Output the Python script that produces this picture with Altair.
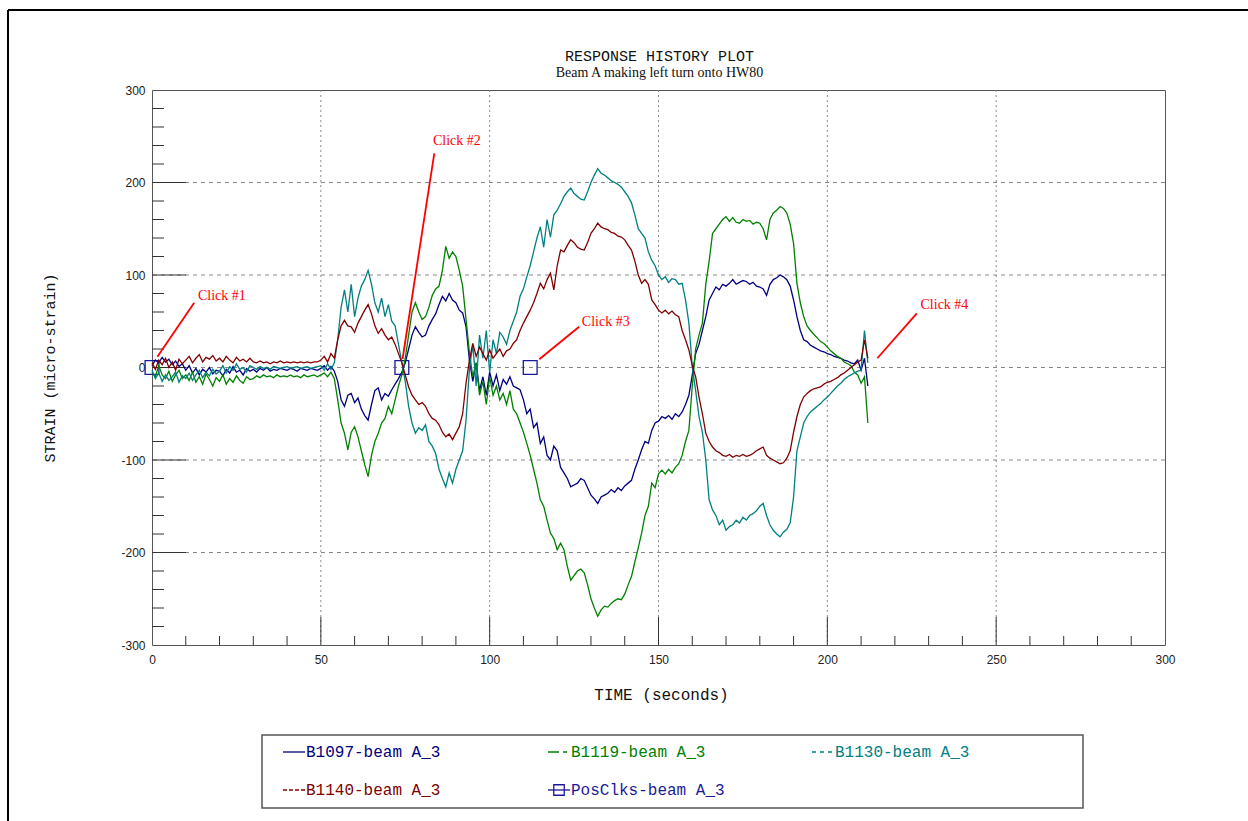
import altair as alt
import pandas as pd

# ---------------- data ----------------
TIME = list(range(213))  # seconds

B1097 = [2, 8, 5, 11, 6, 9, 3, 7, 1, 4,
         -3, 2, -6, -1, -8, -2, -5, 0, -7, -3,
         -4, -9, -2, -6, 1, -5, -3, -8, -1, -4,
         -2, -5, -1, -3, 0, -4, -2, -3, -1, -2,
         -3, -1, -2, -4, -1, -2, -3, -1, -2, -3,
         -1, 2, -3, 1, -4, -15, -35, -42, -30, -28,
         -38, -33, -45, -52, -57, -40, -25, -22, -35, -28,
         -31, -24, -18, -12, -5, 5, 20, 35, 44, 38,
         33, 35, 45, 52, 58, 68, 77, 72, 80, 73,
         70, 62, 59, 44, 8, -15, 5, -25, -10, -30,
         -5, -20, -8, -25, -13, -18, -10, -20, -22, -24,
         -35, -50, -45, -65, -60, -82, -75, -95, -100, -85,
         -90, -108, -114, -120, -129, -127, -125, -120, -122, -130,
         -138, -142, -147, -140, -138, -136, -132, -135, -130, -133,
         -128, -125, -122, -110, -100, -89, -80, -82, -68, -60,
         -58, -53, -55, -52, -56, -50, -53, -48, -40, -30,
         -8, 15, 25, 40, 55, 73, 80, 87, 84, 90,
         88, 91, 95, 90, 92, 94, 93, 90, 92, 88,
         87, 85, 78, 90, 95, 97, 100, 98, 95, 88,
         73, 55, 40, 30, 28, 24, 22, 20, 18, 17,
         15, 14, 12, 11, 10, 8, 7, 5, 4, 8,
         -3, 10, -20]

B1119 = [-5, -10, 2, -8, -12, -4, -15, -8, -3, -12,
         -8, -14, -5, -16, -10, -18, -7, -13, -20, -11,
         -15, -8, -18, -12, -16, -9, -14, -17, -10, -13,
         -12, -9, -11, -8, -10, -9, -11, -8, -10, -9,
         -10, -8, -10, -9, -11, -8, -10, -9, -8, -10,
         -8, -6, -10, -5, -12, -35, -60, -71, -89, -70,
         -64, -75, -90, -105, -118, -95, -80, -71, -60, -55,
         -42, -50, -35, -20, -8, 10, 35, 60, 70, 60,
         52, 55, 65, 78, 85, 88, 105, 131, 118, 125,
         120, 105, 88, 52, 16, -10, 5, -30, -15, -40,
         -10, -30, -20, -35, -28, -40, -25, -45, -50, -60,
         -70, -82, -95, -110, -125, -143, -150, -165, -179, -185,
         -197, -190, -197, -215, -230, -225, -220, -218, -222, -235,
         -250, -260, -269, -262, -258, -259, -255, -252, -250, -251,
         -245, -235, -226, -210, -195, -179, -160, -150, -125, -130,
         -115, -111, -115, -110, -114, -108, -104, -95, -80, -68,
         -20, 20, 35, 48, 90, 115, 145, 150, 155, 160,
         163, 158, 162, 157, 156, 160, 158, 159, 155, 157,
         156, 150, 138, 160, 167, 170, 174, 172, 167, 155,
         134, 91, 70, 55, 45, 40, 36, 32, 28, 26,
         22, 18, 15, 12, 10, 6, 4, 2, -5, -8,
         -17, -10, -60]

B1130 = [-3, -12, -6, -15, -8, -14, -10, -5, -16, -9,
         -12, -6, -14, -8, -3, -11, -5, -9, -2, -7,
         -4, 2, -6, 1, -3, 4, -2, 0, -5, 2,
         0, -2, 1, -1, 0, -2, 1, 0, -1, 0,
         1, -1, 0, 1, -1, 0, 1, -1, 0, 1,
         2, -3, 4, -2, 5, 30, 65, 84, 60, 90,
         55, 75, 88, 95, 105, 90, 70, 60, 75, 55,
         68, 50, 45, 25, 5, -15, -42, -60, -71, -65,
         -68, -62, -80, -85, -93, -110, -120, -129, -114, -125,
         -110, -100, -90, -57, -2, 25, -20, 35, 10, 40,
         -5, 30, 15, 38, 33, 25, 40, 50, 60, 77,
         85, 98, 110, 125, 140, 152, 130, 160, 141, 165,
         170, 177, 185, 190, 194, 188, 185, 182, 181, 190,
         200, 208, 215, 210, 208, 205, 202, 200, 198, 195,
         190, 185, 178, 165, 150, 145, 140, 125, 116, 110,
         100, 95, 98, 92, 96, 95, 90, 91, 73, 48,
         1, -25, -53, -70, -100, -143, -154, -160, -170, -165,
         -176, -172, -170, -165, -168, -162, -165, -160, -158, -155,
         -150, -147, -160, -170, -176, -180, -183, -178, -175, -168,
         -140, -90, -75, -60, -53, -48, -45, -42, -39, -35,
         -32, -28, -24, -20, -17, -13, -10, -8, -6, -4,
         -3, 40, 5]

B1140 = [5, -2, 8, 3, 10, 0, 6, -3, 9, 4,
         8, 12, 5, 10, 14, 6, 11, 9, 13, 7,
         10, 6, 12, 8, 5, 11, 7, 9, 6, 10,
         6, 5, 7, 5, 6, 4, 6, 5, 7, 5,
         6, 5, 6, 5, 6, 5, 6, 5, 6, 6,
         8, 12, 6, 15, 10, 30, 45, 51, 45, 44,
         38, 48, 55, 62, 68, 58, 45, 37, 42, 35,
         30, 33, 25, 15, 5, -8, -21, -30, -35, -40,
         -38, -42, -50, -55, -57, -62, -70, -75, -72, -78,
         -71, -64, -50, -17, 8, 26, 12, 22, 15, 8,
         19, 10, 15, 20, 12, 18, 20, 26, 30, 40,
         48, 55, 62, 70, 80, 91, 85, 95, 102, 84,
         110, 127, 125, 132, 138, 135, 130, 128, 127, 135,
         145, 150, 156, 152, 150, 149, 146, 145, 142, 141,
         138, 132, 127, 115, 100, 91, 95, 90, 73, 68,
         62, 59, 62, 58, 61, 57, 55, 40, 30, 19,
         2, -10, -32, -50, -71, -80, -86, -90, -92, -95,
         -96, -94, -97, -95, -96, -94, -96, -95, -93, -90,
         -88, -86, -95, -98, -100, -102, -104, -103, -98, -90,
         -70, -53, -40, -32, -28, -25, -23, -22, -21, -18,
         -16, -15, -13, -11, -8, -6, -3, 0, 3, 6,
         8, 30, 10]

CLICK_T = [0, 74, 112]
CLICK_V = [0, 0, 0]

CLICK_LABELS = ["Click #1", "Click #2", "Click #3", "Click #4"]
LABEL_T = [13.6, 83.2, 127.3, 227.6]
LABEL_V = [77, 245, 49.5, 67.6]
LEADER_T = [12.5, 83.6, 126.5, 226.5]
LEADER_V = [70, 231.6, 44, 58.6]
LEADER_T2 = [1.6, 74.2, 114.7, 214.8]
LEADER_V2 = [11.7, 9.2, 8.9, 10]

SERIES_NAMES = ["B1097-beam A_3", "B1119-beam A_3", "B1130-beam A_3",
                "B1140-beam A_3", "PosClks-beam A_3"]
SERIES_COLORS = ["#000080", "#008000", "#008080", "#800000", "#1a1a9a"]

X_LABELS = [0, 50, 100, 150, 200, 250, 300]
Y_LABELS = [-300, -200, -100, 0, 100, 200, 300]
X_GRID = [50, 100, 150, 200, 250]
Y_GRID = [-200, -100, 0, 100, 200]
X_MINOR = [t for t in range(10, 300, 10) if t % 50 != 0]
X_MAJOR = [50, 100, 150, 200, 250]
Y_MINOR = [v for v in range(-280, 300, 20) if v % 100 != 0]
Y_MAJOR = [-200, -100, 0, 100, 200]

# ---------------- chart ----------------
W, H = 1013, 555
xs = alt.Scale(domain=[0, 300], nice=False, zero=False)
ys = alt.Scale(domain=[-300, 300], nice=False, zero=False)
xaxis = alt.Axis(values=X_LABELS, title=None, ticks=False, domain=False, grid=False,
                 labelFont="Liberation Sans", labelFontSize=12, labelColor="#222",
                 labelPadding=9, labelOverlap=False, labelFlush=False,
                 labelExpr="'' + datum.value")
yaxis = alt.Axis(values=Y_LABELS, title=None, ticks=False, domain=False, grid=False,
                 labelFont="Liberation Sans", labelFontSize=12, labelColor="#222",
                 labelPadding=7, labelOverlap=False, labelFlush=False,
                 labelExpr="'' + datum.value")


def X(field="t"):
    return alt.X(f"{field}:Q", scale=xs, axis=xaxis)


def Y(field="v"):
    return alt.Y(f"{field}:Q", scale=ys, axis=yaxis)


one = pd.DataFrame({"d": [0]})
layers = []

# grid
layers.append(alt.Chart(pd.DataFrame({"t": X_GRID})).mark_rule(
    color="#8a8a8a", strokeDash=[2, 3], strokeWidth=1).encode(x=X()))
layers.append(alt.Chart(pd.DataFrame({"v": Y_GRID})).mark_rule(
    color="#8a8a8a", strokeDash=[4, 4], strokeWidth=1).encode(y=Y()))

# inward ticks
layers.append(alt.Chart(pd.DataFrame({"t": X_MINOR})).mark_rule(color="#333", strokeWidth=1).encode(
    x=X(), y=alt.value(H - 9), y2=alt.value(H)))
layers.append(alt.Chart(pd.DataFrame({"t": X_MAJOR})).mark_rule(color="#333", strokeWidth=1).encode(
    x=X(), y=alt.value(H - 28), y2=alt.value(H)))
layers.append(alt.Chart(pd.DataFrame({"v": Y_MINOR})).mark_rule(color="#333", strokeWidth=1).encode(
    y=Y(), x=alt.value(0), x2=alt.value(12)))
layers.append(alt.Chart(pd.DataFrame({"v": Y_MAJOR})).mark_rule(color="#333", strokeWidth=1).encode(
    y=Y(), x=alt.value(0), x2=alt.value(34)))

# PosClks squares
layers.append(alt.Chart(pd.DataFrame({"t": CLICK_T, "v": CLICK_V})).mark_point(
    shape="square", size=190, filled=False, color=SERIES_COLORS[4], strokeWidth=1.3,
    opacity=1).encode(x=X(), y=Y()))

# strain series
for vals, col in zip([B1097, B1119, B1130, B1140], SERIES_COLORS[:4]):
    layers.append(alt.Chart(pd.DataFrame({"t": TIME, "v": vals})).mark_line(
        color=col, strokeWidth=1.3, strokeJoin="miter").encode(x=X(), y=Y()))

# click annotations
layers.append(alt.Chart(pd.DataFrame({"t": LEADER_T, "v": LEADER_V, "t2": LEADER_T2, "v2": LEADER_V2})).mark_rule(
    color="#ff0000", strokeWidth=1.8).encode(x=X(), y=Y(), x2="t2:Q", y2="v2:Q"))
layers.append(alt.Chart(pd.DataFrame({"t": LABEL_T, "v": LABEL_V, "label": CLICK_LABELS})).mark_text(
    align="left", baseline="middle", font="Liberation Serif", fontSize=14, color="#ff0000").encode(
    x=X(), y=Y(), text="label:N"))

# titles
layers.append(alt.Chart(one).mark_text(text="RESPONSE HISTORY PLOT", font="Liberation Mono", fontSize=15,
                                       align="center", baseline="middle", color="#111").encode(
    x=alt.value(W / 2 + 1), y=alt.value(-34)))
layers.append(alt.Chart(one).mark_text(text="Beam A making left turn onto HW80", font="Liberation Serif",
                                       fontSize=14, align="center", baseline="middle", color="#111").encode(
    x=alt.value(W / 2 + 1), y=alt.value(-17)))
layers.append(alt.Chart(one).mark_text(text="TIME (seconds)", font="Liberation Mono", fontSize=16,
                                       align="center", baseline="middle", color="#111").encode(
    x=alt.value(W / 2 + 3), y=alt.value(605)))
layers.append(alt.Chart(one).mark_text(text="STRAIN (micro-strain)", font="Liberation Mono", fontSize=15,
                                       angle=270, align="center", baseline="middle", color="#111").encode(
    x=alt.value(-102), y=alt.value(278)))

# outer frame (top and left edges)
layers.append(alt.Chart(one).mark_rule(color="#000", strokeWidth=2).encode(
    x=alt.value(-144), x2=alt.value(1100), y=alt.value(-80)))
layers.append(alt.Chart(one).mark_rule(color="#000", strokeWidth=2).encode(
    x=alt.value(-144), y=alt.value(-80), y2=alt.value(740)))

# legend box
layers.append(alt.Chart(one).mark_rect(fillOpacity=0, stroke="#555", strokeWidth=1.5).encode(
    x=alt.value(110), x2=alt.value(931), y=alt.value(645), y2=alt.value(718)))

legend_pos = [(131, 662), (396, 662), (660, 662), (131, 700), (396, 700)]
legend_dash = [None, [11, 4, 4, 3], [4, 4], [4, 2], None]
for name, col, dash, (lx, ly) in zip(SERIES_NAMES, SERIES_COLORS, legend_dash, legend_pos):
    kw = {"strokeDash": dash} if dash else {}
    layers.append(alt.Chart(one).mark_rule(color=col, strokeWidth=1.3, **kw).encode(
        x=alt.value(lx), x2=alt.value(lx + 22), y=alt.value(ly)))
    layers.append(alt.Chart(one).mark_text(text=name, font="Liberation Mono", fontSize=16,
                                           align="left", baseline="middle", color=col).encode(
        x=alt.value(lx + 23), y=alt.value(ly)))
layers.append(alt.Chart(one).mark_point(shape="square", size=110, filled=False, color=SERIES_COLORS[4],
                                        strokeWidth=1.3, opacity=1).encode(
    x=alt.value(legend_pos[4][0] + 11), y=alt.value(legend_pos[4][1])))

chart = alt.layer(*layers).properties(
    width=W, height=H,
    padding={"left": 152, "top": 90, "right": 83, "bottom": 176},
    autosize=alt.AutoSizeParams(type="none"),
    background="white",
).configure_view(stroke="#555", strokeWidth=1)

chart.save("out.html", embed_options={"renderer": "svg", "actions": False})
